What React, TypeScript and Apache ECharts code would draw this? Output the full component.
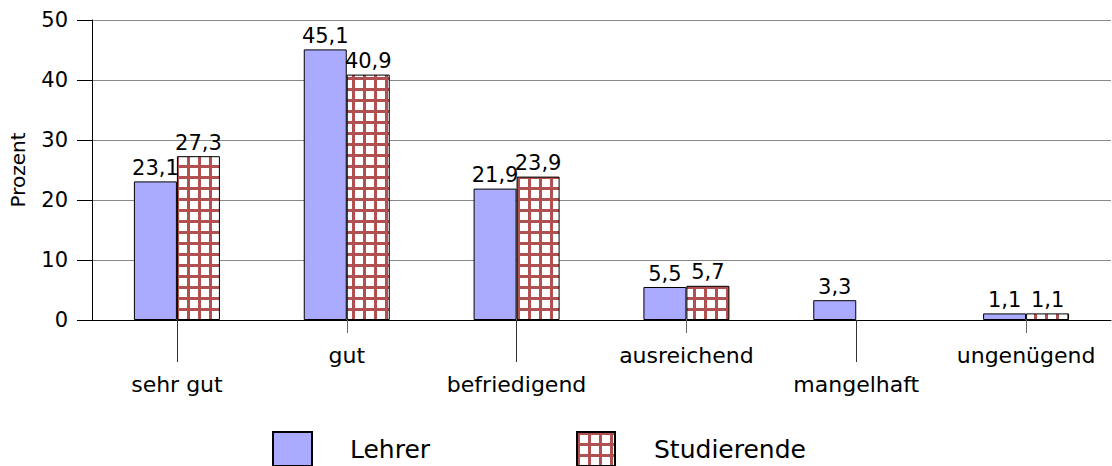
import React, { useEffect, useRef } from "react";
import * as echarts from "echarts";

const categories = ["sehr gut", "gut", "befriedigend", "ausreichend", "mangelhaft", "ungenügend"];
const lehrer = [23.1, 45.1, 21.9, 5.5, 3.3, 1.1];
const studierende: (number | null)[] = [27.3, 40.9, 23.9, 5.7, null, 1.1];
const seriesNames = ["Lehrer", "Studierende"];

const FONT = "DejaVu Sans";

const tileSvg =
  "<svg xmlns='http://www.w3.org/2000/svg' width='11' height='11'>" +
  "<rect width='11' height='11' fill='#ffffff'/>" +
  "<rect x='0' y='0' width='3' height='11' fill='#b05050'/>" +
  "<rect x='0' y='0' width='11' height='3' fill='#b05050'/>" +
  "</svg>";
const tileUrl = "data:image/svg+xml;charset=utf-8," + encodeURIComponent(tileSvg);

export default function App() {
  const ref = useRef<HTMLDivElement>(null);
  useEffect(() => {
    if (!ref.current) return;
    const chart = echarts.init(ref.current, undefined, { renderer: "svg" });
    const fmt = (p: any) => (p.value == null ? "" : Number(p.value).toFixed(1).replace(".", ","));
    const legendText = { fontFamily: FONT, fontSize: 25, color: "#000" };
    chart.setOption({
      animation: false,
      backgroundColor: "#ffffff",
      textStyle: { fontFamily: FONT },
      grid: { left: 91, right: 1, top: 20, bottom: 146, containLabel: false },
      legend: [
        {
          data: [seriesNames[0]],
          left: 272,
          top: 431,
          padding: 0,
          icon: "rect",
          itemWidth: 39,
          itemHeight: 34,
          textStyle: { ...legendText, padding: [0, 0, 0, 33] },
        },
        {
          data: [seriesNames[1]],
          left: 576,
          top: 431,
          padding: 0,
          icon: "rect",
          itemWidth: 38,
          itemHeight: 34,
          textStyle: { ...legendText, padding: [0, 0, 0, 34] },
        },
      ],
      xAxis: [
        {
          type: "category",
          data: categories,
          position: "bottom",
          axisLine: { show: true, lineStyle: { color: "#000", width: 1 } },
          axisTick: {
            show: true,
            alignWithLabel: true,
            length: 42,
            interval: (i: number) => i % 2 === 0,
            lineStyle: { color: "#333" },
          },
          axisLabel: {
            interval: (i: number) => i % 2 === 0,
            margin: 53,
            fontFamily: FONT,
            fontSize: 22,
            color: "#000",
          },
          splitLine: { show: false },
        },
        {
          type: "category",
          data: categories,
          position: "bottom",
          axisLine: { show: false },
          axisTick: {
            show: true,
            alignWithLabel: true,
            length: 13,
            interval: (i: number) => i % 2 === 1,
            lineStyle: { color: "#666" },
          },
          axisLabel: {
            interval: (i: number) => i % 2 === 1,
            margin: 24,
            fontFamily: FONT,
            fontSize: 22,
            color: "#000",
          },
          splitLine: { show: false },
        },
      ],
      yAxis: {
        type: "value",
        min: 0,
        max: 50,
        interval: 10,
        name: "Prozent",
        nameLocation: "middle",
        nameGap: 64,
        nameRotate: 90,
        nameTextStyle: { fontFamily: FONT, fontSize: 20, color: "#000" },
        axisLine: { show: true, lineStyle: { color: "#000", width: 1 } },
        axisTick: { show: true, length: 15, lineStyle: { color: "#000" } },
        axisLabel: { margin: 24, fontFamily: FONT, fontSize: 21, color: "#000" },
        splitLine: { show: true, lineStyle: { color: "#888", width: 1 } },
      },
      series: [
        {
          name: seriesNames[0],
          type: "bar",
          xAxisIndex: 0,
          data: lehrer,
          barWidth: 43,
          barGap: "0%",
          itemStyle: { color: "#aaaaff", borderColor: "#000", borderWidth: 1 },
          label: {
            show: true,
            position: "top",
            distance: 3,
            formatter: fmt,
            fontFamily: FONT,
            fontSize: 21,
            color: "#000",
          },
        },
        {
          name: seriesNames[1],
          type: "bar",
          xAxisIndex: 0,
          data: studierende,
          barWidth: 43,
          barGap: "0%",
          itemStyle: {
            color: { image: tileUrl, repeat: "repeat", imageWidth: 11, imageHeight: 11 },
            borderColor: "#000",
            borderWidth: 1,
          },
          label: {
            show: true,
            position: "top",
            distance: 3,
            formatter: fmt,
            fontFamily: FONT,
            fontSize: 21,
            color: "#000",
          },
        },
      ],
    });
    return () => chart.dispose();
  }, []);
  return (
    <div
      ref={ref}
      style={{ position: "fixed", left: 0, top: 0, width: 1112, height: 466, background: "#fff" }}
    />
  );
}
